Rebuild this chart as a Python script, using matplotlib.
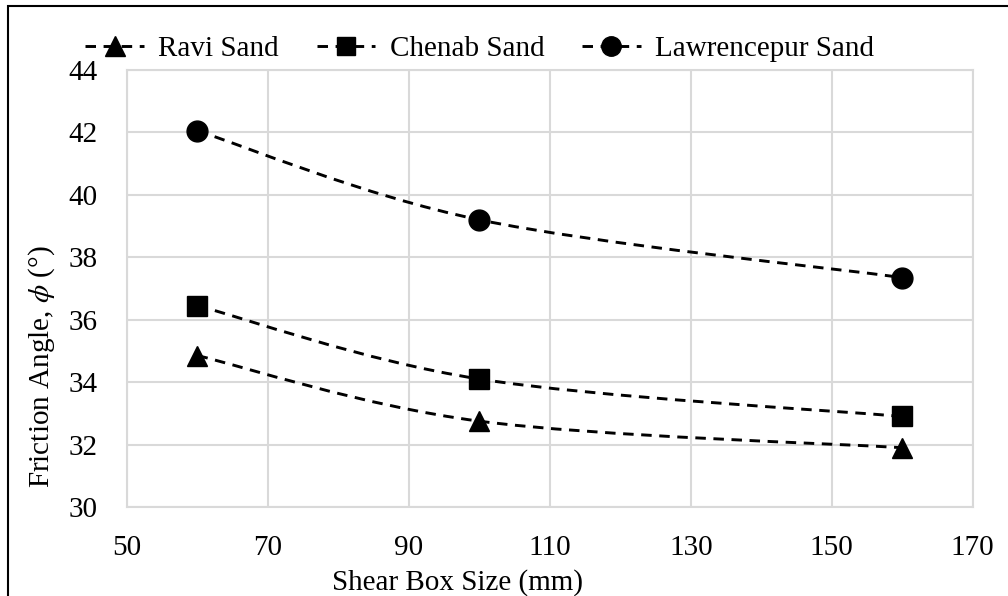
import matplotlib
matplotlib.use("Agg")
import matplotlib.pyplot as plt
from matplotlib.path import Path
from matplotlib.patches import PathPatch, Rectangle
from matplotlib.lines import Line2D
import numpy as np

plt.rcParams['font.family'] = ['Liberation Serif', 'DejaVu Serif']
plt.rcParams['mathtext.fontset'] = 'stix'

box_size = [60, 100, 160]
ravi = [34.85, 32.75, 31.9]
chenab = [36.45, 34.1, 32.9]
lawrencepur = [42.05, 39.2, 37.35]
series_names = ["Ravi Sand", "Chenab Sand", "Lawrencepur Sand"]
markers = ["^", "s", "o"]
x_ticks = [50, 70, 90, 110, 130, 150, 170]
y_ticks = [30, 32, 34, 36, 38, 40, 42, 44]

FS = 21
LS = (0, (3.6, 2.6))
LW = 2.1

fig = plt.figure(figsize=(10.08, 5.96), dpi=100)
ax = fig.add_axes([0.126, 0.1493, 0.839, 0.7333])


def smooth_path(xs, ys):
    pts = np.column_stack([xs, ys]).astype(float)
    n = len(pts)
    verts = [pts[0]]
    codes = [Path.MOVETO]
    for i in range(n - 1):
        p0 = pts[i - 1] if i > 0 else pts[i]
        p1 = pts[i]
        p2 = pts[i + 1]
        p3 = pts[i + 2] if i + 2 < n else pts[i + 1]
        c1 = p1 + (p2 - p0) / 6.0
        c2 = p2 - (p3 - p1) / 6.0
        verts += [c1, c2, p2]
        codes += [Path.CURVE4] * 3
    return Path(verts, codes)


handles = []
for ys, name, mk in zip([ravi, chenab, lawrencepur], series_names, markers):
    patch = PathPatch(smooth_path(box_size, ys), facecolor='none', edgecolor='black',
                      linewidth=LW, linestyle=LS, zorder=3)
    ax.add_patch(patch)
    ax.plot(box_size, ys, linestyle='none', marker=mk, markersize=15 if mk != 's' else 14,
            color='black', zorder=4)
    handles.append(Line2D([], [], color='black', linestyle=LS, linewidth=LW,
                          marker=mk, markersize=14 if mk != 's' else 13))

ax.set_xlim(50, 170)
ax.set_ylim(30, 44)
ax.set_xticks(x_ticks)
ax.set_yticks(y_ticks)
ax.tick_params(axis='both', length=0, labelsize=FS)
ax.tick_params(axis='y', pad=21)
ax.tick_params(axis='x', pad=20)
ax.grid(True, color='#d9d9d9', linewidth=1.5)
ax.set_axisbelow(True)
for s in ax.spines.values():
    s.set_color('#d9d9d9')
    s.set_linewidth(1.5)

ax.set_xlabel("Shear Box Size (mm)", fontsize=FS)
ax.xaxis.set_label_coords(0.391, -0.142)
ax.set_ylabel(r"Friction Angle, $\phi$ (°)", fontsize=FS)
ax.yaxis.set_label_coords(-0.083, 0.32)

fig.legend(handles=handles, labels=series_names, loc='center', ncol=3,
           bbox_to_anchor=(0.476, 0.918), frameon=False, fontsize=FS,
           handlelength=2.0, handletextpad=0.5, columnspacing=1.3)

border = Rectangle((8 / 1008, -0.2), 1.2, 1.2 - 6 / 596, transform=fig.transFigure,
                   fill=False, edgecolor='black', linewidth=1.5, clip_on=False)
fig.add_artist(border)

fig.savefig("out.png", dpi=100)
